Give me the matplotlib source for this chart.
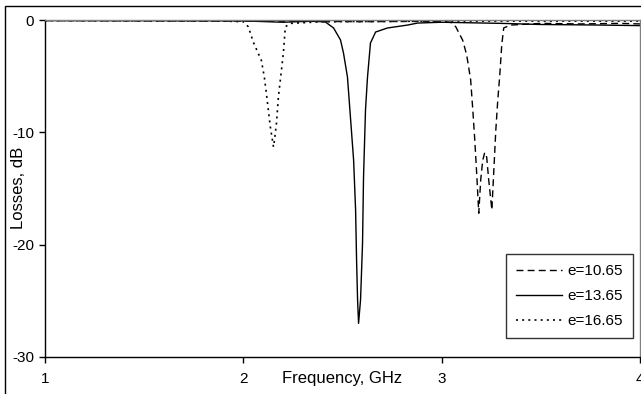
import matplotlib
matplotlib.use("Agg")
import matplotlib.pyplot as plt
from matplotlib.patches import Rectangle

plt.rcParams['font.family'] = ['Liberation Sans', 'DejaVu Sans']

# e = 10.65 (dashed)
f_1065 = [1.0, 1.5, 2.0, 2.3, 2.6, 2.9, 3.0, 3.045, 3.071, 3.106, 3.126, 3.146, 3.157,
          3.167, 3.177, 3.187, 3.197, 3.207, 3.217, 3.227, 3.237, 3.253, 3.263, 3.273,
          3.283, 3.293, 3.303, 3.313, 3.35, 3.5, 3.7, 3.9, 4.0]
db_1065 = [-0.05, -0.08, -0.1, -0.12, -0.15, -0.12, -0.15, -0.2, -0.6, -1.8, -3.1, -5.3, -8.0,
           -10.7, -13.8, -17.2, -14.2, -12.5, -11.8, -12.2, -14.2, -16.9, -13.4, -9.8,
           -7.1, -4.9, -2.2, -0.7, -0.45, -0.3, -0.35, -0.3, -0.35]

# e = 13.65 (solid)
f_1365 = [1.0, 1.5, 2.0, 2.2, 2.35, 2.414, 2.455, 2.490, 2.505, 2.525, 2.540, 2.556, 2.566,
          2.571, 2.576, 2.581, 2.591, 2.601, 2.606, 2.616, 2.626, 2.641, 2.667, 2.727,
          2.828, 2.879, 3.0, 3.3, 3.5, 3.8, 4.0]
db_1365 = [-0.05, -0.06, -0.08, -0.2, -0.1, -0.18, -0.71, -1.78, -2.94, -5.08, -8.64, -12.47, -16.9,
           -21.4, -24.9, -27.0, -24.9, -19.9, -14.0, -8.0, -5.1, -2.05, -1.07, -0.71,
           -0.45, -0.27, -0.2, -0.3, -0.4, -0.45, -0.5]

# e = 16.65 (dotted)
f_1665 = [1.0, 1.5, 1.9, 2.0, 2.025, 2.051, 2.091, 2.106, 2.116, 2.126, 2.136, 2.152,
          2.157, 2.167, 2.177, 2.192, 2.202, 2.212, 2.237, 2.4, 3.0, 3.5, 4.0]
db_1665 = [-0.05, -0.08, -0.1, -0.15, -0.6, -2.0, -3.6, -5.1, -6.5, -8.0, -9.5, -11.3,
           -10.7, -9.2, -6.8, -4.5, -2.9, -0.6, -0.3, -0.15, -0.1, -0.1, -0.1]

x_ticks = [1, 2, 3, 4]
y_ticks = [0, -10, -20, -30]

W, H = 641, 394
fig = plt.figure(figsize=(W/100, H/100), dpi=100)
ax = fig.add_axes([45/W, 1-357/H, (640-45)/W, (357-20)/H])

ax.plot(f_1065, db_1065, color='black', lw=1.0, linestyle=(0, (5, 3)), label='e=10.65')
ax.plot(f_1365, db_1365, color='black', lw=1.0, linestyle='-', label='e=13.65')
ax.plot(f_1665, db_1665, color='black', lw=1.2, linestyle=(0, (1.2, 2.5)), label='e=16.65')

ax.set_xlim(1, 4)
ax.set_ylim(-30, 0)
ax.set_xticks(x_ticks)
ax.set_yticks(y_ticks)
ax.set_xticklabels([str(t) for t in x_ticks])
ax.set_yticklabels([str(t) for t in y_ticks])
ax.tick_params(direction='out', length=4, width=1, labelsize=11, pad=4)
ax.tick_params(axis='x', pad=7)

for s in ['top', 'right']:
    ax.spines[s].set_color('#808080')
    ax.spines[s].set_linewidth(1.0)
for s in ['left', 'bottom']:
    ax.spines[s].set_color('black')
    ax.spines[s].set_linewidth(1.0)

ax.set_ylabel('Losses, dB', fontsize=12)
ax.yaxis.set_label_coords((26-45)/595, (357-188)/337)
ax.text((342-45)/595, -(371-357)/337, 'Frequency, GHz', transform=ax.transAxes,
        ha='center', va='top', fontsize=12)

leg = ax.legend(loc='lower right', frameon=True, fancybox=False,
                edgecolor='black', fontsize=11, handlelength=3.0, handletextpad=0.35,
                borderpad=0.65, labelspacing=0.72, borderaxespad=0)
leg.set_bbox_to_anchor((633/W, 1-338/H), transform=fig.transFigure)
leg.get_frame().set_linewidth(1.0)

fig.patches.append(Rectangle((5/W, -0.1), 2, 1 - 6/H + 0.1, fill=False,
                             edgecolor='black', lw=1.0, transform=fig.transFigure))

fig.savefig('out.png', dpi=100)
